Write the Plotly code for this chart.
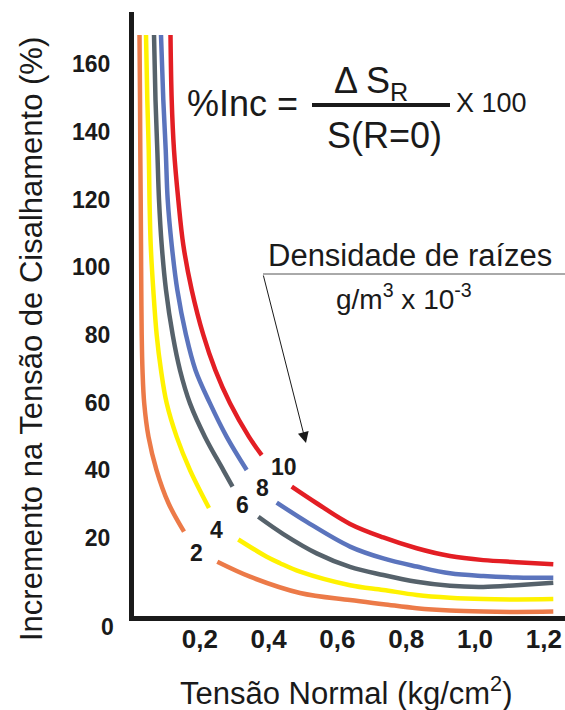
import plotly.graph_objects as go

# ---------------- data ----------------
densities = ["2", "4", "6", "8", "10"]
colors = ["#EC7A48", "#FFF200", "#56626B", "#5B74BD", "#E31E24"]

# each curve: first segment, gap (label), second segment
x_d2 = [0.0247, 0.0262, 0.0270, 0.0282, 0.0291, 0.0299, 0.0311, 0.0334, 0.0384, 0.0509, 0.0741, 0.1090, 0.1541,
        None,
        0.2509, 0.3459, 0.4913, 0.6366, 0.7334, 0.8305, 0.9273, 1.0241, 1.1212, 1.2276]
y_d2 = [168.6, 149.4, 134.6, 119.9, 106.6, 93.3, 80.0, 69.6, 59.8, 49.9, 40.1, 30.3, 21.9,
        None,
        13.0, 8.6, 3.8, 1.7, 0.5, -0.7, -1.4, -1.7, -1.8, -1.7]

x_d4 = [0.0436, 0.0474, 0.0515, 0.0538, 0.0573, 0.0648, 0.0747, 0.0872, 0.1038, 0.1328, 0.1715, 0.2267,
        None,
        0.3119, 0.3945, 0.4331, 0.4913, 0.6366, 0.7334, 0.8305, 0.9273, 1.0241, 1.1212, 1.2276]
y_d4 = [168.6, 149.4, 134.6, 119.9, 106.6, 93.3, 80.0, 69.6, 59.8, 49.9, 40.1, 28.9,
        None,
        19.6, 14.5, 12.6, 10.1, 6.1, 4.7, 3.2, 2.4, 2.0, 1.9, 2.0]

x_d6 = [0.0669, 0.0712, 0.0765, 0.0814, 0.0892, 0.1017, 0.1212, 0.1424, 0.1715, 0.2151, 0.2683, 0.2951,
        None,
        0.3701, 0.4427, 0.5398, 0.6366, 0.7334, 0.8305, 0.9273, 1.0241, 1.1212, 1.2276]
y_d6 = [168.6, 149.4, 134.6, 119.9, 106.6, 93.3, 80.0, 69.6, 59.8, 49.9, 40.1, 35.2,
        None,
        26.3, 21.2, 15.5, 11.5, 9.1, 7.1, 5.9, 5.6, 6.1, 6.8]

x_d8 = [0.0872, 0.0939, 0.1009, 0.1067, 0.1183, 0.1346, 0.1599, 0.1875, 0.2297, 0.2782, 0.3363,
        None,
        0.4235, 0.5108, 0.6366, 0.7334, 0.8305, 0.9273, 1.0241, 1.1212, 1.2276]
y_d8 = [168.6, 149.4, 134.6, 119.9, 106.6, 93.3, 80.0, 69.6, 59.8, 49.9, 40.1,
        None,
        30.5, 24.8, 17.5, 14.0, 11.6, 9.6, 8.8, 8.4, 8.3]

x_d10 = [0.1148, 0.1183, 0.1250, 0.1375, 0.1520, 0.1765, 0.2102, 0.2451, 0.2878, 0.3430, 0.3799,
         None,
         0.4672, 0.5398, 0.6366, 0.7334, 0.8305, 0.9273, 1.0241, 1.1212, 1.2276]
y_d10 = [168.6, 149.4, 134.6, 119.9, 106.6, 93.3, 80.0, 69.6, 59.8, 49.9, 44.5,
         None,
         35.2, 30.3, 24.2, 20.2, 17.0, 14.7, 13.5, 12.9, 12.3]

curves_x = [x_d2, x_d4, x_d6, x_d8, x_d10]
curves_y = [y_d2, y_d4, y_d6, y_d8, y_d10]

# curve label positions (data coords)
label_x = [0.191, 0.249, 0.3247, 0.3828, 0.4456]
label_y = [15.5, 22.4, 29.8, 34.7, 40.9]

x_tickvals = [0.2, 0.4, 0.6, 0.8, 1.0, 1.2]
x_ticktext = ["0,2", "0,4", "0,6", "0,8", "1,0", "1,2"]
y_tickvals = [20, 40, 60, 80, 100, 120, 140, 160]
y_zero_label = "0"

x_title = "Tensão Normal (kg/cm<sup>2</sup>)"
y_title = "Incremento na Tensão de Cisalhamento (%)"
legend_title = "Densidade de raízes"
legend_units = "g/m<sup>3</sup> x 10<sup>-3</sup>"

# ---------------- layout geometry ----------------
W, H = 565, 710
ML, MR, MT, MB = 134, 0, 12, 94
PW, PH = W - ML - MR, H - MT - MB
X_RANGE = [0.0087, 0.0087 + PW / 344.0]
Y_RANGE = [-3.0, -3.0 + PH / 3.386]

def px(xp):
    return (xp - ML) / PW

def py(yp):
    return (H - MB - yp) / PH

FONT = "Liberation Sans, Arial, sans-serif"
INK = "#1a1a1a"

fig = go.Figure()
for xs, ys, c, n in zip(curves_x, curves_y, colors, densities):
    fig.add_trace(go.Scatter(x=xs, y=ys, mode="lines", name=n,
                             line=dict(color=c, width=4.5, shape="spline", smoothing=1.0),
                             hoverinfo="skip"))

ann = []
for lx, ly, t in zip(label_x, label_y, densities):
    ann.append(dict(x=lx, y=ly, xref="x", yref="y", text="<b>%s</b>" % t, showarrow=False,
                    font=dict(size=23, color=INK, family=FONT),
                    xanchor="center", yanchor="middle"))

# zero tick label (drawn below the axis line in the original)
ann.append(dict(x=px(116), y=py(627), xref="paper", yref="paper", text="<b>%s</b>" % y_zero_label,
                showarrow=False, xanchor="right", yanchor="middle",
                font=dict(size=23, color=INK, family=FONT)))

# axis titles
ann.append(dict(x=px(346), y=py(691), xref="paper", yref="paper", text=x_title, showarrow=False,
                xanchor="center", yanchor="middle", font=dict(size=31, color=INK, family=FONT)))
ann.append(dict(x=px(32), y=py(339), xref="paper", yref="paper", text=y_title, showarrow=False,
                textangle=-90, xanchor="center", yanchor="middle",
                font=dict(size=31, color=INK, family=FONT)))

# formula
ann.append(dict(x=px(242), y=py(103), xref="paper", yref="paper", text="%Inc =", showarrow=False,
                xanchor="center", yanchor="middle", font=dict(size=36, color=INK, family=FONT)))
ann.append(dict(x=px(371), y=py(83), xref="paper", yref="paper", text="Δ S<sub>R</sub>", showarrow=False,
                xanchor="center", yanchor="middle", font=dict(size=36, color=INK, family=FONT)))
ann.append(dict(x=px(384), y=py(135), xref="paper", yref="paper", text="S(R=0)", showarrow=False,
                xanchor="center", yanchor="middle", font=dict(size=36, color=INK, family=FONT)))
ann.append(dict(x=px(491), y=py(103), xref="paper", yref="paper", text="X 100", showarrow=False,
                xanchor="center", yanchor="middle", font=dict(size=27, color=INK, family=FONT)))

# legend caption
ann.append(dict(x=px(410), y=py(255), xref="paper", yref="paper", text=legend_title, showarrow=False,
                xanchor="center", yanchor="middle", font=dict(size=31, color=INK, family=FONT)))
ann.append(dict(x=px(404), y=py(297), xref="paper", yref="paper", text=legend_units, showarrow=False,
                xanchor="center", yanchor="middle", font=dict(size=28, color=INK, family=FONT)))
# arrow
ann.append(dict(x=px(306), y=py(443), ax=263 - 306, ay=274 - 443, xref="paper", yref="paper",
                axref="pixel", ayref="pixel", text="", showarrow=True, arrowhead=2,
                arrowsize=2.2, arrowwidth=1, arrowcolor=INK, standoff=0))

shapes = [
    dict(type="line", xref="paper", yref="paper", x0=px(312), x1=px(450), y0=py(105), y1=py(105),
         line=dict(color=INK, width=4)),
    dict(type="line", xref="paper", yref="paper", x0=px(263), x1=px(565), y0=py(274), y1=py(274),
         line=dict(color="#555555", width=1)),
]

fig.update_layout(
    width=W, height=H,
    margin=dict(l=ML, r=MR, t=MT, b=MB, pad=0),
    paper_bgcolor="white", plot_bgcolor="white",
    showlegend=False,
    font=dict(family=FONT, color=INK),
    annotations=ann, shapes=shapes,
    xaxis=dict(range=X_RANGE, showgrid=False, zeroline=False, showline=True, linewidth=5,
               linecolor=INK, tickvals=x_tickvals, ticktext=["<b>%s</b>" % t for t in x_ticktext],
               ticks="", tickfont=dict(size=26, family=FONT, color=INK),
               ticklabelstandoff=-4),
    yaxis=dict(range=Y_RANGE, showgrid=False, zeroline=False, showline=True, linewidth=5,
               linecolor=INK, tickvals=y_tickvals,
               ticktext=["<b>%d</b>" % v for v in y_tickvals],
               ticks="", tickfont=dict(size=23, family=FONT, color=INK),
               ticklabelstandoff=14),
)

fig.write_html("out.html")
